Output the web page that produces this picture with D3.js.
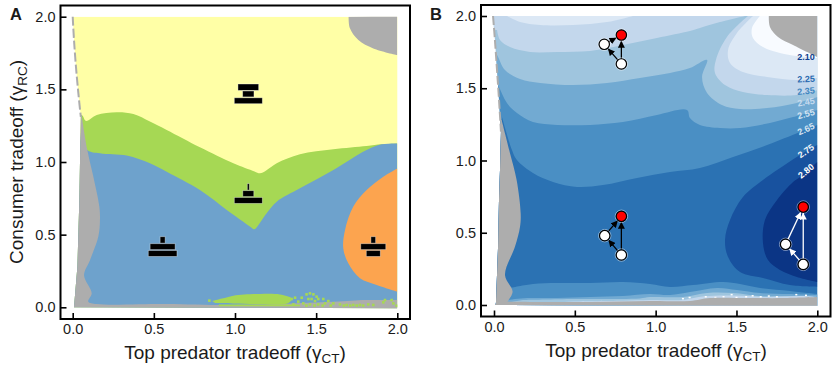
<!DOCTYPE html>
<html>
<head>
<meta charset="utf-8">
<script src="https://cdn.jsdelivr.net/npm/d3@7"></script>
<style>
  html, body { margin: 0; padding: 0; background: #fff; }
  text { font-family: "Liberation Sans", Arial, sans-serif; fill: #1a1a1a; }
</style>
</head>
<body>
<svg id="chart" width="835" height="367"></svg>
<script>
const tickValues = [0, 0.5, 1, 1.5, 2];

// panel A: boundaries between outcome regions, [top predator, consumer] tradeoff
const edgeA = [[0, 2], [0.008, 1.84], [0.02, 1.656], [0.035, 1.472], [0.05, 1.31], [0.045, 1.0], [0.041, 0.74], [0.029, 0.28], [0.008, 0]];
const greenTop = [[0.055, 1.323], [0.082, 1.282], [0.148, 1.323], [0.271, 1.342], [0.374, 1.33], [0.476, 1.278], [0.579, 1.22], [0.784, 1.101], [0.99, 0.991], [1.12, 0.935], [1.154, 0.922], [1.19, 0.94], [1.257, 0.991], [1.4, 1.053], [1.606, 1.087], [1.811, 1.11], [1.903, 1.122], [2, 1.128]];
const blueTop = [[0.05, 1.2], [0.09, 1.083], [0.168, 1.06], [0.333, 1.044], [0.476, 0.991], [0.579, 0.933], [0.784, 0.807], [0.949, 0.67], [1.051, 0.589], [1.1, 0.55], [1.119, 0.537], [1.14, 0.56], [1.195, 0.647], [1.257, 0.727], [1.4, 0.819], [1.606, 0.945], [1.811, 1.082], [1.903, 1.122], [2, 1.128]];
const orangeEdge = [[2, 0.956], [1.914, 0.899], [1.811, 0.807], [1.729, 0.693], [1.678, 0.532], [1.667, 0.406], [1.698, 0.303], [1.77, 0.2], [1.873, 0.154], [2, 0.108]];
const grayWedgeA = [[0.055, 1.32], [0.09, 1.083], [0.127, 0.9], [0.164, 0.693], [0.168, 0.602], [0.158, 0.487], [0.107, 0.326], [0.07, 0.22], [0.117, 0.096], [0.096, 0.039], [0.148, 0.023], [0.579, 0.023], [0.99, 0.016], [1.606, 0.039], [1.811, 0.05], [2, 0.05]];
const grayCornerA = [[1.7, 2], [1.708, 1.92], [1.76, 1.84], [1.852, 1.782], [2, 1.736]];
const greenBlob = [[0.86, 0.043], [0.92, 0.06], [0.99, 0.08], [1.154, 0.092], [1.277, 0.088], [1.35, 0.06], [1.33, 0.03], [1.135, 0.023], [0.988, 0.027], [0.877, 0.03]];
const greenStrip = [[0.9, 0.02], [1.4, 0.02], [1.4, 0.007], [0.9, 0.007]];
const greenSpeckles = [[0.842, 0.046], [1.349, 0.057], [1.37, 0.066], [1.411, 0.066], [1.39, 0.039], [1.36, 0.02], [1.441, 0.089], [1.462, 0.096], [1.483, 0.089], [1.503, 0.073], [1.452, 0.057], [1.472, 0.057], [1.513, 0.057], [1.493, 0.043], [1.544, 0.057], [1.575, 0.043], [1.555, 0.027], [1.421, 0.027], [1.462, 0.02], [1.513, 0.02], [1.606, 0.027], [1.647, 0.02], [1.688, 0.016], [1.729, 0.016], [1.77, 0.016], [1.821, 0.02], [1.852, 0.016], [1.914, 0.034], [1.924, 0.05], [1.965, 0.05], [1.976, 0.027], [1.996, 0.011], [1.44, 0.012], [1.49, 0.012], [1.54, 0.012], [1.59, 0.012], [1.67, 0.012], [1.71, 0.012], [1.75, 0.012], [1.79, 0.012]];
const iconSites = [[1.082, 1.468], [1.082, 0.782], [0.554, 0.417], [1.852, 0.417]];
const iconWidths = [[20.7, 11.3, 28], [2, 11, 28], [5, 25, 28.7], [4.7, 25, 14]];

// panel B: contours of food chain length
const edgeB = [[-0.006, 2], [0.006, 1.83], [0.019, 1.62], [0.031, 1.42], [0.043, 1.2], [0.037, 0.93], [0.031, 0.73], [0.025, 0.4], [0.012, 0.01], [0.006, 0]];
const stripTL = [[0.08, 2], [0.161, 1.958], [0.285, 1.938], [0.489, 1.938], [0.699, 1.958], [0.86, 2]];
const lobeTL = [[0.019, 1.903], [0.037, 1.834], [0.099, 1.785], [0.223, 1.751], [0.39, 1.751], [0.594, 1.758], [0.798, 1.799], [1.008, 1.848], [1.212, 1.896], [1.274, 1.917], [1.398, 1.958], [1.553, 2]];
const lobe225 = [[1.571, 2], [1.441, 1.855], [1.373, 1.696], [1.367, 1.606], [1.429, 1.522], [1.54, 1.474], [1.689, 1.453], [1.874, 1.453], [2, 1.488]];
const lobe210 = [[1.602, 2], [1.503, 1.882], [1.448, 1.765], [1.46, 1.675], [1.54, 1.612], [1.689, 1.578], [1.874, 1.557], [2, 1.571]];
const lobeWhite = [[1.645, 2], [1.596, 1.917], [1.602, 1.848], [1.664, 1.785], [1.769, 1.744], [1.874, 1.723], [2, 1.709]];
const level245 = [[-0.05, 1.85], [0.019, 1.73], [0.068, 1.626], [0.161, 1.564], [0.285, 1.536], [0.489, 1.522], [0.699, 1.536], [0.903, 1.571], [1.089, 1.606], [1.212, 1.64], [1.318, 1.696], [1.287, 1.578], [1.318, 1.467], [1.41, 1.384], [1.522, 1.356], [1.689, 1.363], [1.874, 1.398], [2, 1.439]];
const level255 = [[-0.05, 1.7], [0.025, 1.522], [0.08, 1.398], [0.142, 1.329], [0.241, 1.266], [0.39, 1.246], [0.594, 1.246], [0.798, 1.266], [1.008, 1.315], [1.194, 1.349], [1.212, 1.294], [1.274, 1.246], [1.398, 1.225], [1.522, 1.225], [1.707, 1.26], [1.85, 1.301], [2, 1.35]];
const level265 = [[0.05, 1.3], [0.111, 1.073], [0.142, 1.003], [0.241, 0.913], [0.365, 0.851], [0.513, 0.817], [0.674, 0.83], [0.885, 0.879], [1.089, 0.92], [1.274, 0.948], [1.479, 1.024], [1.689, 1.107], [1.893, 1.197], [2, 1.246]];
const lobe275 = [[2, 1.107], [1.893, 1.038], [1.751, 0.934], [1.664, 0.865], [1.54, 0.747], [1.46, 0.588], [1.429, 0.45], [1.448, 0.332], [1.522, 0.228], [1.664, 0.187], [1.831, 0.138], [2, 0.125]];
const lobe280 = [[2, 0.99], [1.893, 0.886], [1.85, 0.851], [1.751, 0.727], [1.676, 0.588], [1.664, 0.429], [1.695, 0.311], [1.769, 0.242], [1.874, 0.194], [2, 0.159]];
const bottom1 = [[0.1, 0.118], [0.241, 0.145], [0.39, 0.152], [0.594, 0.152], [0.798, 0.159], [0.965, 0.145], [1.089, 0.125], [1.231, 0.138], [1.417, 0.159], [1.522, 0.145], [1.646, 0.118], [1.831, 0.097], [2, 0.076]];
const bottom2 = [[0.087, 0.035], [0.204, 0.048], [0.39, 0.048], [0.594, 0.055], [0.798, 0.062], [0.965, 0.076], [1.089, 0.069], [1.212, 0.09], [1.38, 0.118], [1.503, 0.104], [1.646, 0.083], [1.831, 0.076], [2, 0.069]];
const bottom3 = [[0.179, 0.035], [0.489, 0.042], [0.699, 0.042], [0.903, 0.045], [0.965, 0.055], [1.169, 0.055], [1.318, 0.083], [1.479, 0.083], [1.646, 0.062], [1.831, 0.062], [2, 0.055]];
const bottom4 = [[0.489, 0.025], [0.798, 0.03], [0.965, 0.035], [1.169, 0.035], [1.3, 0.06], [1.479, 0.065], [1.7, 0.055], [1.9, 0.062], [2, 0.055]];
const grayBottomB = [[0.082, 0.023], [0.6, 0.021], [0.965, 0.028], [1.212, 0.028], [1.336, 0.048], [1.584, 0.048], [1.788, 0.048], [2, 0.055]];
const grayWedgeB = [[0.047, 1.28], [0.099, 1.05], [0.14, 0.865], [0.165, 0.634], [0.161, 0.542], [0.13, 0.404], [0.068, 0.208], [0.115, 0.092], [0.082, 0.023]];
const grayCornerB = [[1.7, 2], [1.707, 1.924], [1.757, 1.855], [1.85, 1.799], [2, 1.716]];
const whiteSpeckles = [[1.169, 0.042], [1.21, 0.05], [1.31, 0.055], [1.37, 0.05], [1.42, 0.055], [1.47, 0.07], [1.5, 0.05], [1.56, 0.055], [1.6, 0.062], [1.65, 0.055], [1.7, 0.06], [1.75, 0.055], [1.87, 0.07], [1.93, 0.065]];

const levelLabels = ['2.10', '2.25', '2.35', '2.45', '2.55', '2.65', '2.75', '2.80'];
const levelLabelY = [1.716, 1.564, 1.481, 1.405, 1.322, 1.218, 1.066, 0.927];
const levelLabelTilt = [0, -3, -5, -10, -15, -25, -35, -40];
const levelLabelColor = ['#0f3f8f', '#2a6ab0', '#3f86c0', '#c6dbef', '#d4e4f2', '#d4e4f2', '#f2f7fb', '#ffffff'];

// food webs in B: start, side, end node
const webStart = [[0.788, 1.668], [0.788, 0.346], [1.913, 0.281]];
const webSide = [[0.682, 1.804], [0.685, 0.48], [1.804, 0.42]];
const webEnd = [[0.788, 1.868], [0.788, 0.614], [1.913, 0.678]];
const webArrowColor = ['#000', '#000', '#fff'];

const gray = '#adadad';
const green = '#a6d854';
const svg = d3.select('#chart');

function makePanel(id, frame, xRange, yRange) {
  const x = d3.scaleLinear().domain([0, 2]).range(xRange);
  const y = d3.scaleLinear().domain([0, 2]).range(yRange);
  const g = svg.append('g');
  const line = d3.line().x(d => x(d[0])).y(d => y(d[1])).curve(d3.curveCatmullRom.alpha(0.5));
  // contour plus straight runs back through the given corners
  const region = (pts, corners) => line(pts) + corners.map(c => `L${x(c[0])},${y(c[1])}`).join('') + 'Z';
  return { id, frame, x, y, g, line, region };
}

function clipTo(panel, edge) {
  const { x, y, id } = panel;
  const pts = edge.concat([[2, -0.006], [2, 2]]).map(d => [x(d[0]), y(d[1])]);
  svg.append('clipPath').attr('id', id).append('path').attr('d', 'M' + pts.join('L') + 'Z');
  return panel.g.append('g').attr('clip-path', `url(#${id})`);
}

function drawAxes(panel) {
  const { frame, x, y, g } = panel;
  const fmt = d3.format('.1f');
  const xAxis = g.append('g').attr('transform', `translate(0,${frame.bottom})`)
    .call(d3.axisBottom(x).tickValues(tickValues).tickFormat(fmt).tickSize(-6).tickPadding(5));
  const yAxis = g.append('g').attr('transform', `translate(${frame.left},0)`)
    .call(d3.axisLeft(y).tickValues(tickValues).tickFormat(fmt).tickSize(-6).tickPadding(5));
  [xAxis, yAxis].forEach(a => {
    a.select('.domain').remove();
    a.selectAll('line').attr('stroke', '#000').attr('stroke-width', 1.6);
    a.selectAll('text').style('font-size', '14.5px').attr('fill', '#1a1a1a');
  });
  g.append('rect')
    .attr('x', frame.left).attr('y', frame.top)
    .attr('width', frame.right - frame.left).attr('height', frame.bottom - frame.top)
    .attr('fill', 'none').attr('stroke', '#000').attr('stroke-width', 2);
}

function subLabel(parent, main, greek, sub) {
  const t = parent.append('text').style('font-size', '19px').attr('text-anchor', 'middle');
  t.append('tspan').text(main);
  t.append('tspan').text(greek);
  t.append('tspan').text(sub).style('font-size', '13.5px').attr('dy', 4);
  t.append('tspan').text(')').attr('dy', -4);
  return t;
}

// ---- panel A
const panelA = makePanel('clipA', { left: 60.5, right: 410, top: 5.5, bottom: 319 }, [72.7, 397.3], [307.3, 16.7]);
const layerA = clipTo(panelA, edgeA);
const BELOW = [[2, -0.01], [-0.05, -0.01]];
const ABOVE_RIGHT = [[2, 2.01]];

layerA.append('rect').attr('x', 60).attr('y', 16.7).attr('width', 340).attr('height', 295).attr('fill', '#ffffa6');
layerA.append('path').attr('d', panelA.region([[-0.05, 1.323]].concat(greenTop), BELOW)).attr('fill', green);
layerA.append('path').attr('d', panelA.region(blueTop, BELOW)).attr('fill', '#6ea2cc');
layerA.append('path').attr('d', panelA.region(orangeEdge, [])).attr('fill', '#fca44f');
layerA.append('path').attr('d', panelA.region(grayWedgeA, [[2, -0.01], [-0.05, -0.01], [-0.05, 1.32]])).attr('fill', gray);
layerA.append('path').attr('d', panelA.region(grayCornerA, ABOVE_RIGHT)).attr('fill', gray);
layerA.append('path').attr('d', panelA.line(greenBlob) + 'Z').attr('fill', green);
layerA.append('path').attr('d', 'M' + greenStrip.map(d => [panelA.x(d[0]), panelA.y(d[1])]).join('L') + 'Z').attr('fill', green);
layerA.selectAll('rect.speck').data(greenSpeckles).enter().append('rect')
  .attr('class', 'speck')
  .attr('x', d => panelA.x(d[0]) - 1.3).attr('y', d => panelA.y(d[1]) - 1.3)
  .attr('width', 2.6).attr('height', 2.6).attr('fill', green);

// dashed gray sliver running up the left edge
panelA.g.append('path')
  .attr('d', panelA.line(edgeA.slice(0, 5)))
  .attr('fill', 'none').attr('stroke', gray).attr('stroke-width', 2).attr('stroke-dasharray', '9 3');

const iconRows = [[-10, 6.4], [-3, 5.9], [3.8, 5.9]];
iconSites.forEach((site, i) => {
  const icon = panelA.g.append('g').attr('transform', `translate(${panelA.x(site[0])},${panelA.y(site[1])})`);
  iconRows.forEach((row, r) => {
    const w = iconWidths[i][r];
    icon.append('rect')
      .attr('x', -w / 2).attr('y', row[0]).attr('width', w).attr('height', row[1])
      .attr('fill', '#000').attr('stroke', '#fff').attr('stroke-opacity', 0.45).attr('stroke-width', 0.8);
  });
});

drawAxes(panelA);
subLabel(panelA.g, 'Top predator tradeoff (', 'γ', 'CT').attr('x', 235).attr('y', 359);
subLabel(panelA.g, 'Consumer tradeoff (', 'γ', 'RC').attr('transform', 'translate(23,162) rotate(-90)');
panelA.g.append('text').text('A').attr('x', 10).attr('y', 20).style('font-size', '16.5px').style('font-weight', 'bold');

// ---- panel B
const panelB = makePanel('clipB', { left: 481, right: 830.5, top: 5, bottom: 316.5 }, [494, 817.3], [305, 16]);
const layerB = clipTo(panelB, edgeB);
const fillB = (d, color) => layerB.append('path').attr('d', d).attr('fill', color);

layerB.append('rect').attr('x', 485).attr('y', 16).attr('width', 335).attr('height', 292).attr('fill', '#9fc5de');
fillB(panelB.region(lobeTL, [[1.553, 2.01], [-0.05, 2.01], [-0.05, 1.903]]), '#c3d7ec');
fillB(panelB.region(stripTL, []), '#dce8f5');
fillB(panelB.region(lobe225, ABOVE_RIGHT), '#c3d7ec');
fillB(panelB.region(lobe210, ABOVE_RIGHT), '#dce8f5');
fillB(panelB.region(lobeWhite, ABOVE_RIGHT), '#f8fbff');
fillB(panelB.region(level245, BELOW), '#72aad2');
fillB(panelB.region(level255, BELOW), '#4a8fc4');
fillB(panelB.region(level265, BELOW), '#2b72b3');
fillB(panelB.region(lobe275, []), '#18529f');
fillB(panelB.region(lobe280, []), '#0b3585');
fillB(panelB.region(bottom1, BELOW), '#4a8fc4');
fillB(panelB.region(bottom2, BELOW), '#72aad2');
fillB(panelB.region(bottom3, BELOW), '#9fc5de');
fillB(panelB.region(bottom4, BELOW), '#c3d7ec');
layerB.selectAll('rect.speck').data(whiteSpeckles).enter().append('rect')
  .attr('class', 'speck')
  .attr('x', d => panelB.x(d[0]) - 1).attr('y', d => panelB.y(d[1]) - 1)
  .attr('width', 2).attr('height', 1.5).attr('fill', '#fff');
fillB(panelB.region(grayBottomB, BELOW), gray);
fillB(panelB.region(grayWedgeB, [[0.5, -0.01], [-0.05, -0.01], [-0.05, 1.28]]), gray);
fillB(panelB.region(grayCornerB, ABOVE_RIGHT), gray);

panelB.g.append('path')
  .attr('d', panelB.line(edgeB.slice(0, 5)))
  .attr('fill', 'none').attr('stroke', gray).attr('stroke-width', 2).attr('stroke-dasharray', '9 3');

levelLabels.forEach((label, i) => {
  panelB.g.append('text').text(label)
    .attr('transform', `translate(${panelB.x(1.93)},${panelB.y(levelLabelY[i])}) rotate(${levelLabelTilt[i]})`)
    .attr('text-anchor', 'middle').attr('dy', '0.35em')
    .style('font-size', '9px').style('font-weight', 'bold').style('fill', levelLabelColor[i]);
});

// arrowheads, one per color
const defs = svg.append('defs');
['#000', '#fff'].forEach((c, i) => {
  defs.append('marker').attr('id', 'head' + i)
    .attr('viewBox', '0 0 8 8').attr('refX', 7.5).attr('refY', 4)
    .attr('markerUnits', 'userSpaceOnUse').attr('markerWidth', 7).attr('markerHeight', 7).attr('orient', 'auto')
    .append('path').attr('d', 'M0,0L8,4L0,8Z').attr('fill', c);
});

const nodeR = 5.2;
function arrow(from, to, color) {
  const x1 = panelB.x(from[0]), y1 = panelB.y(from[1]);
  const x2 = panelB.x(to[0]), y2 = panelB.y(to[1]);
  const len = Math.hypot(x2 - x1, y2 - y1);
  const ux = (x2 - x1) / len, uy = (y2 - y1) / len;
  panelB.g.append('line')
    .attr('x1', x1 + ux * nodeR).attr('y1', y1 + uy * nodeR)
    .attr('x2', x2 - ux * (nodeR + 0.8)).attr('y2', y2 - uy * (nodeR + 0.8))
    .attr('stroke', color).attr('stroke-width', 1.3)
    .attr('marker-end', `url(#head${color === '#000' ? 0 : 1})`);
}

webStart.forEach((start, i) => {
  const color = webArrowColor[i];
  arrow(start, webSide[i], color);
  arrow(start, webEnd[i], color);
  arrow(webSide[i], webEnd[i], color);
  [[start, '#fff'], [webSide[i], '#fff'], [webEnd[i], '#f00']].forEach(n => {
    panelB.g.append('circle')
      .attr('cx', panelB.x(n[0][0])).attr('cy', panelB.y(n[0][1])).attr('r', nodeR + 1)
      .attr('fill', 'none').attr('stroke', '#fff').attr('stroke-opacity', 0.45).attr('stroke-width', 1);
    panelB.g.append('circle')
      .attr('cx', panelB.x(n[0][0])).attr('cy', panelB.y(n[0][1])).attr('r', nodeR)
      .attr('fill', n[1]).attr('stroke', '#000').attr('stroke-width', 1.2);
  });
});

drawAxes(panelB);
subLabel(panelB.g, 'Top predator tradeoff (', 'γ', 'CT').attr('x', 656).attr('y', 357);
panelB.g.append('text').text('B').attr('x', 430).attr('y', 20).style('font-size', '16.5px').style('font-weight', 'bold');
</script>
</body>
</html>
